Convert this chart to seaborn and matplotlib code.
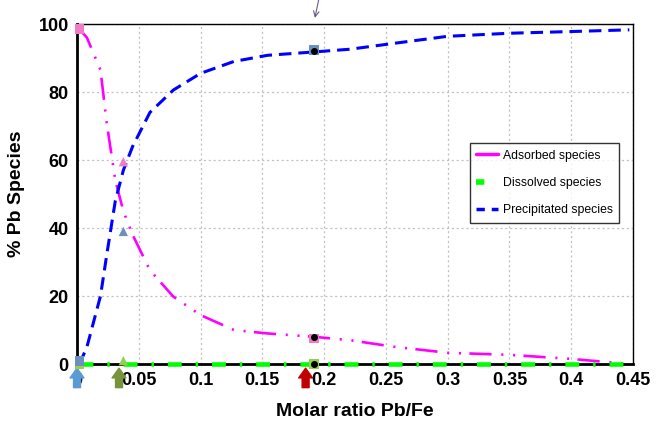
import numpy as np
import pandas as pd
import seaborn as sns
import matplotlib.pyplot as plt
from matplotlib.lines import Line2D

# Molar ratio Pb/Fe
ratio = [0.002, 0.008, 0.019, 0.024, 0.031, 0.0375, 0.045, 0.059, 0.078, 0.1,
         0.127, 0.154, 0.192, 0.221, 0.256, 0.3, 0.35, 0.4, 0.447]
adsorbed = [98.5, 96.0, 86.5, 71.0, 54.0, 45.0, 38.0, 27.6, 19.8, 14.4,
            10.0, 9.0, 8.0, 7.0, 5.1, 3.3, 2.7, 1.5, 0.0]
dissolved = [0.0] * len(ratio)
precipitated = [0.0, 5.0, 20.0, 32.0, 48.0, 57.0, 64.0, 74.0, 80.6, 85.5,
                89.0, 90.8, 91.8, 92.6, 94.3, 96.4, 97.3, 97.8, 98.3]

# measured points
sq_x = [0.002, 0.002, 0.002, 0.192, 0.192, 0.192]
sq_y = [98.5, 0.0, 0.8, 7.5, 0.0, 92.3]
sq_c = ['#f07cc8', '#92d050', '#6a8fc0', '#f07cc8', '#92d050', '#6a8fc0']
tri_x = [0.0375, 0.0375, 0.0375]
tri_y = [59.5, 39.0, 1.0]
tri_c = ['#f07cc8', '#6a8fc0', '#92d050']
dot_x = [0.192, 0.192, 0.192]
dot_y = [8.0, 0.0, 92.0]

arrow_x = [0.0, 0.034, 0.185]
arrow_c = ['#5b9bd5', '#77933c', '#c00000']

df = pd.DataFrame({'ratio': ratio, 'Adsorbed species': adsorbed,
                   'Dissolved species': dissolved,
                   'Precipitated species': precipitated})

sns.set_style('white')
plt.rcParams['font.family'] = ['Liberation Sans', 'DejaVu Sans']
plt.rcParams['lines.scale_dashes'] = False
plt.rcParams['text.color'] = 'black'
plt.rcParams['axes.labelcolor'] = 'black'
plt.rcParams['xtick.color'] = 'black'
plt.rcParams['ytick.color'] = 'black'

fig, ax = plt.subplots(figsize=(6.56, 4.22), dpi=100)
fig.subplots_adjust(left=0.1174, right=0.965, bottom=0.1374, top=0.943)

ax.grid(True, color='#c0c0c0', linestyle=(0, (1.5, 2)), linewidth=0.9)
ax.set_axisbelow(True)

styles = {
    'Adsorbed species': ('#ff00ff', 1.9, (0, (16, 7, 1.5, 7, 1.5, 6))),
    'Dissolved species': ('#00ff00', 3.3, (0, (10, 10, 1.8, 10))),
    'Precipitated species': ('#0000ff', 2.2, (0, (9, 5))),
}
for name, (col, lw, ls) in styles.items():
    sns.lineplot(data=df, x='ratio', y=name, ax=ax, color=col, linewidth=lw,
                 linestyle=ls, clip_on=False, zorder=4)

for x, y, c in zip(sq_x, sq_y, sq_c):
    ax.scatter(x, y, marker='s', s=50, color=c, edgecolor='none',
               zorder=5, clip_on=False)
for x, y, c in zip(tri_x, tri_y, tri_c):
    ax.scatter(x, y, marker='^', s=45, color=c, edgecolor='none',
               zorder=5, clip_on=False)
ax.scatter(dot_x, dot_y, marker='o', s=16, color='black', zorder=6, clip_on=False)

# small pointer arrow at the top
ax.annotate('', xy=(0.1925, 101.8), xytext=(0.1958, 107.5),
            arrowprops=dict(arrowstyle='->', color='#6a5a8a', lw=0.8,
                            shrinkA=0, shrinkB=0),
            annotation_clip=False)

# block arrows under the axis
for x, c in zip(arrow_x, arrow_c):
    ax.annotate('', xy=(x, 0), xytext=(0, -17), xycoords='data',
                textcoords='offset points',
                arrowprops=dict(arrowstyle='simple,head_width=1.0,head_length=0.7,tail_width=0.5',
                                color=c, mutation_scale=10, shrinkA=0, shrinkB=3),
                annotation_clip=False)

ax.set_xlim(0, 0.45)
ax.set_ylim(0, 100)
ax.set_xticks(np.arange(0, 0.451, 0.05))
ax.set_xticklabels(['0', '0.05', '0.1', '0.15', '0.2', '0.25', '0.3', '0.35', '0.4', '0.45'])
ax.set_yticks(range(0, 101, 20))
ax.tick_params(axis='both', direction='out', length=4, width=1.5, labelsize=13,
               pad=2, color='black')
for lab in ax.get_xticklabels() + ax.get_yticklabels():
    lab.set_fontweight('bold')

for side in ['left', 'bottom']:
    ax.spines[side].set_linewidth(2)
    ax.spines[side].set_color('black')
for side in ['top', 'right']:
    ax.spines[side].set_linewidth(1)
    ax.spines[side].set_color('black')

ax.set_xlabel('Molar ratio Pb/Fe', fontsize=14, fontweight='bold', labelpad=10)
ax.set_ylabel('% Pb Species', fontsize=14, fontweight='bold', labelpad=10)

handles = [Line2D([], [], color='#ff00ff', lw=2.5),
           Line2D([], [], color='#00ff00', lw=4, linestyle=(2, (8, 20))),
           Line2D([], [], color='#0000ff', lw=2.5, linestyle=(0, (6, 5)))]
leg = ax.legend(handles, list(styles.keys()), loc='upper left',
                bbox_to_anchor=(0.706, 0.65), fontsize=8.8, frameon=True,
                fancybox=False, edgecolor='black', handlelength=1.75,
                handletextpad=0.4, labelspacing=1.25, borderpad=0.55,
                borderaxespad=0)
leg.get_frame().set_linewidth(1)

fig.savefig('out.png', dpi=100)
